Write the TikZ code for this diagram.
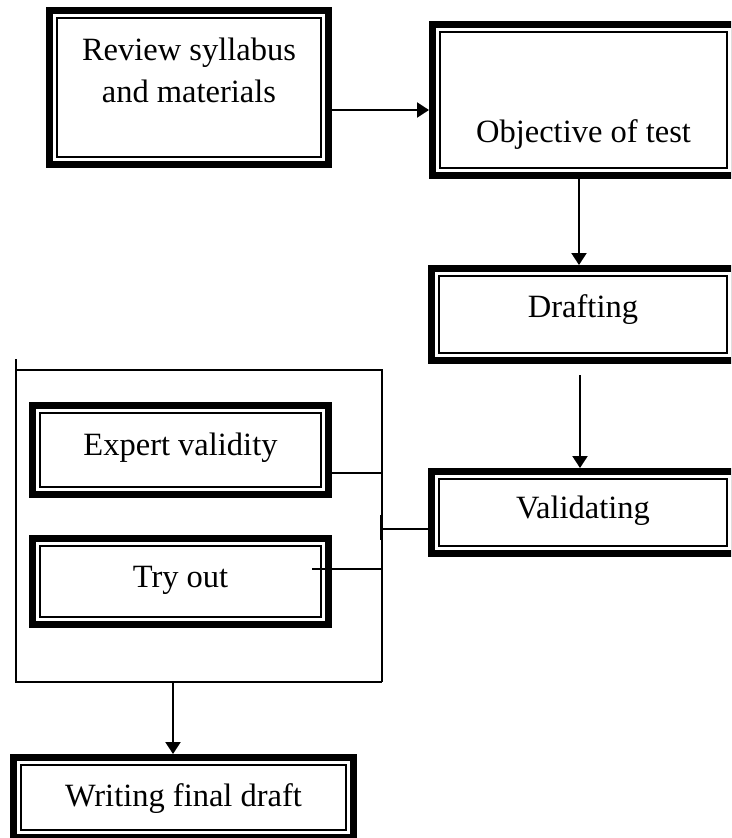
\documentclass[tikz,border=0pt]{standalone}
\usepackage{fontspec}
\setmainfont{Liberation Serif}
\usetikzlibrary{arrows.meta}
\begin{document}
\begin{tikzpicture}[x=1pt,y=-1pt,
  dbox/.style={draw, line width=7pt, outer sep=3.5pt, rectangle, inner sep=0pt, font=\fontsize{32.5}{42}\selectfont},
  innerline/.style={line width=1.6pt},
  link/.style={line width=1.5pt},
  arr/.style={line width=2.2pt, -{Triangle[length=12pt,width=15pt]}},
]
\clip (0,0) rectangle (731,838);
% boxes
\node[dbox, minimum width=279pt, minimum height=154pt] (review) at (189,87.5)
  {\raisebox{27.5pt}[0pt][0pt]{\parbox[t]{260pt}{\centering Review syllabus\\and materials}}};
\node[dbox, minimum width=302pt, minimum height=151pt] (objective) at (583.5,100)
  {\raisebox{-42pt}[0pt][0pt]{Objective of test}};
\node[dbox, minimum width=303pt, minimum height=92pt] (drafting) at (583,314.5)
  {\raisebox{-2.5pt}[0pt][0pt]{Drafting}};
\node[dbox, minimum width=303pt, minimum height=82pt] (validating) at (583,512.5)
  {\raisebox{-5.5pt}[0pt][0pt]{Validating}};
\node[dbox, minimum width=296pt, minimum height=89pt] (expert) at (180.5,450)
  {\raisebox{-5pt}[0pt][0pt]{Expert validity}};
\node[dbox, minimum width=296pt, minimum height=86pt] (tryout) at (180.5,581.5)
  {\raisebox{-5.5pt}[0pt][0pt]{Try out}};
\node[dbox, minimum width=340pt, minimum height=80pt] (writing) at (183.5,797.5)
  {\raisebox{-8.5pt}[0pt][0pt]{Writing final draft}};
\foreach \n in {review,objective,drafting,validating,expert,tryout,writing}
  \draw[innerline] ([shift={(11pt,-11pt)}]\n.north west) rectangle ([shift={(-11pt,11pt)}]\n.south east);
% frame of the group
\coordinate (ftop) at (16,359);
\coordinate (ftl) at (16,370);
\coordinate (ftr) at (382,370);
\coordinate (fbl) at (16,682);
\coordinate (fbr) at (382,682);
\coordinate (fend) at (16,683);
\draw[link] (ftop) -- (fend);
\draw[link] (ftl) -- (ftr) -- (fbr);
\draw[link] (fbl) -- (fbr);
\coordinate (s1) at (381,515);
\coordinate (s2) at (381,540);
\draw[line width=1.5pt] (s1) -- (s2);
% connectors
\coordinate (a1) at (0,110);
\draw[arr] (review.east |- a1) -- (objective.west |- a1);
\coordinate (a2) at (579,0);
\draw[arr] (objective.south -| a2) -- (drafting.north -| a2);
\coordinate (a3) at (580,0);
\draw[arr, shorten <=11pt] (drafting.south -| a3) -- (validating.north -| a3);
\coordinate (c1) at (0,473);
\draw[link] (expert.east |- c1) -- (ftr |- c1);
\coordinate (tstub) at (312,569);
\draw[link] (tstub) -- (ftr |- tstub);
\coordinate (c3) at (0,529);
\draw[link] (ftr |- c3) -- (validating.west |- c3);
\coordinate (gout) at (173,682);
\draw[arr] (gout) -- (writing.north -| gout);
\end{tikzpicture}
\end{document}
